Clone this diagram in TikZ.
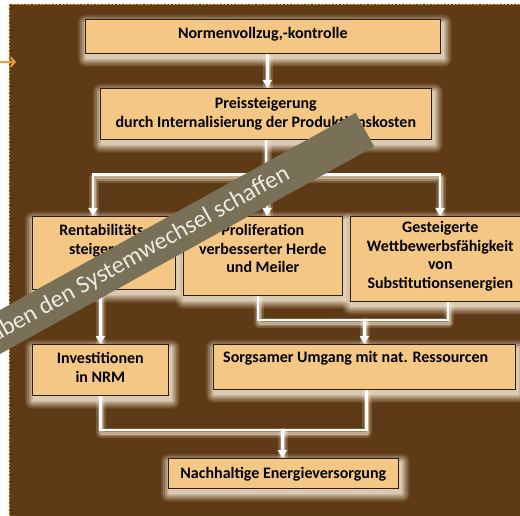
\documentclass[tikz,border=0pt]{standalone}
\usepackage{fontspec}
\setmainfont{Carlito}
\usetikzlibrary{arrows.meta,calc}

\definecolor{bgbrown}{HTML}{5E3A16}
\definecolor{boxfill}{HTML}{F5C785}
\definecolor{boxline}{HTML}{2B2010}
\definecolor{bannercol}{HTML}{797058}
\definecolor{bannertext}{HTML}{EEEAE2}
\definecolor{glow}{HTML}{F5E8D2}
\definecolor{frameorange}{HTML}{EC9C2E}

\pgfdeclarelayer{background}
\pgfdeclarelayer{shade}
\pgfdeclarelayer{top}
\pgfsetlayers{background,shade,main,top}

\tikzset{
  box/.style={draw=boxline, line width=0.7pt, fill=boxfill, inner sep=0pt, anchor=north west},
  txt/.style={font=\bfseries\fontsize{16}{18.7}\selectfont, align=center, anchor=north, inner sep=0pt},
  conn/.style={draw=white, line width=2.6pt},
  tip/.style={-{Triangle[width=9pt,length=8pt]}},
  connglow/.style={draw=glow, line cap=round, line join=round},
}

% soft light shadow beneath a box
\newcommand\boxglow[1]{%
  \begin{pgfonlayer}{shade}
    \foreach \g/\o in {8/0.14,6/0.2,4/0.28,2/0.38,0.5/0.45}{%
      \fill[glow, opacity=\o, rounded corners=\g pt]
        ($(#1.north west)+(1-\g,4-\g)$) rectangle ($(#1.south east)+(3+\g,5+\g)$);
    }
  \end{pgfonlayer}}

% white connector with its soft shadow
\newcommand\link[2][]{%
  \begin{pgfonlayer}{shade}
    \begin{scope}[transform canvas={shift={(1pt,-3pt)}}]
      \draw[connglow, line width=10pt, opacity=0.18] #2;
      \draw[connglow, line width=6pt, opacity=0.3] #2;
      \draw[connglow, line width=3pt, opacity=0.4] #2;
    \end{scope}
  \end{pgfonlayer}
  \draw[conn,#1] #2;}

\begin{document}
\begin{tikzpicture}[x=1pt,y=-1pt]
\useasboundingbox (0,0) rectangle (520,516);
\clip (0,0) rectangle (520,516);

\begin{pgfonlayer}{background}
  \fill[white] (0,0) rectangle (520,516);
  \fill[bgbrown] (9,4) rectangle (530,530);
  \draw[frameorange, line width=0.6pt, dash pattern=on 2pt off 1.5pt] (9,530) -- (9,4) -- (530,4);
\end{pgfonlayer}

% incoming marker on the left edge
\coordinate (inS) at (0,62);
\coordinate (inE) at (16,62);
\draw[frameorange, line width=2pt, -{Straight Barb[length=4pt,width=9pt]}] (inS) -- (inE);

% boxes
\node[box, minimum width=355, minimum height=34] (n1) at (85,19) {};
\node[box, minimum width=331, minimum height=51] (n2) at (100,88) {};
\node[box, minimum width=143, minimum height=73] (n3) at (32,216) {};
\node[box, minimum width=159, minimum height=79] (n4) at (183,216) {};
\node[box, minimum width=180, minimum height=85] (n5) at (350,216) {};
\node[box, minimum width=136, minimum height=51] (n6) at (32,344) {};
\node[box, minimum width=302, minimum height=45] (n7) at (213,344) {};
\node[box, minimum width=230, minimum height=30] (n8) at (168,458) {};

\foreach \n in {n1,n2,n3,n4,n5,n6,n7,n8}{\boxglow{\n}}

% texts
\node[txt] (t1) at ($(n1.north)+(0,8)$) {Normenvollzug,-kontrolle};
\node[txt] (t2) at ($(n2.north)+(0,9)$) {Preissteigerung\\durch Internalisierung der Produktionskosten};
\node[txt] (t3) at ($(n3.north)+(0,8)$) {Rentabilitäts-\\steigerung};
\node[txt] (t4) at ($(n4.north)+(0,8)$) {Proliferation\\verbesserter Herde\\und Meiler};
\node[txt] (t5) at ($(n5.north)+(0,5)$) {Gesteigerte\\Wettbewerbsfähigkeit\\von\\Substitutionsenergien};
\node[txt] (t6) at ($(n6.north)+(0,8)$) {Investitionen\\in NRM};
\node[txt, anchor=north west] (t7) at ($(n7.north west)+(10,7)$) {Sorgsamer Umgang mit nat. Ressourcen};
\node[txt] (t8) at ($(n8.north)+(0,9)$) {Nachhaltige Energieversorgung};

% connector points
\coordinate (a2) at ($(n2.north)+(1.5,0)$);
\coordinate (s2) at ($(n2.south)+(0,35)$);
\coordinate (a3) at ($(n3.north west)+(61,0)$);
\coordinate (a4) at ($(n4.north west)+(84,0)$);
\coordinate (a5) at ($(n5.north west)+(90,0)$);
\coordinate (m4) at ($(n4.south west)+(75,0)$);
\coordinate (m5) at ($(n5.south west)+(98,0)$);
\coordinate (j7) at ($(n7.north)+(0,-24)$);
\coordinate (b7) at ($(n7.south)+(2,0)$);
\coordinate (j8) at ($(n8.north)+(-1,-28)$);

% connectors
\link[tip]{(n1.south -| a2) -- (a2)}
\link{(n2.south) -- (s2)}
\link[tip]{(s2) -| (a3)}
\link[tip]{(s2) -| (a5)}
\link[tip]{(s2 -| a4) -- (a4)}
\link[tip]{(n3.south -| n6.north) -- (n6.north)}
\link{(m4) |- (j7)}
\link{(m5) |- (j7)}
\link[tip]{(j7) -- (n7.north)}
\link{(n6.south) |- (j8)}
\link{(b7) |- (j8)}
\link[tip]{(j8) -- (j8 |- n8.north)}

% diagonal band
\begin{pgfonlayer}{top}
  \node[fill=bannercol, rotate=29, minimum width=500, minimum height=38.5, inner sep=0pt, anchor=east] (band) at (365.1,129.6) {};
  \node[rotate=29, anchor=east, inner sep=0pt, text=bannertext, font=\fontsize{24.5}{28}\selectfont] (bandtext)
    at ($(band.east)!88pt!(band.west)$) {aben den Systemwechsel schaffen};
\end{pgfonlayer}
\end{tikzpicture}
\end{document}
